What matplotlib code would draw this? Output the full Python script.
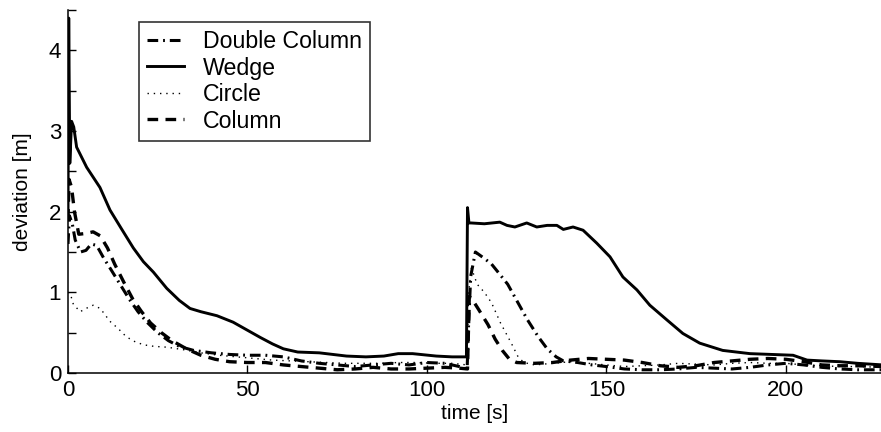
import matplotlib
matplotlib.use("Agg")
import matplotlib.pyplot as plt
from matplotlib.ticker import MultipleLocator

plt.rcParams['font.family'] = ['Liberation Sans', 'DejaVu Sans']

# ---------------- data ----------------
wedge_t = [0, 0.2, 0.5, 1.0, 1.6, 2.4, 5.2, 8.9, 11.7, 15, 18.2, 21, 23.8, 27.5, 31, 34, 37,
           41.5, 46, 50, 53.6, 57, 60, 64, 70, 77.6, 83, 88, 92, 96, 102.6, 107, 111.0,
           111.3, 111.7, 112.3, 116, 120.3, 122.3, 124.5, 127.8, 130.6, 133.5, 136.2, 138,
           140.7, 143.5, 147.3, 151, 154.6, 158.5, 162.1, 166.8, 171.3, 176, 182.4, 190,
           196, 202, 205.9, 210, 215, 220, 227]
wedge_v = [2.0, 4.4, 2.6, 3.12, 3.05, 2.8, 2.55, 2.3, 2.02, 1.78, 1.55, 1.38, 1.25, 1.05, 0.9,
           0.8, 0.76, 0.71, 0.63, 0.53, 0.44, 0.36, 0.3, 0.26, 0.25, 0.21, 0.2, 0.21, 0.24,
           0.24, 0.21, 0.2, 0.2,
           2.05, 1.86, 1.86, 1.85, 1.87, 1.83, 1.81, 1.86, 1.81, 1.83, 1.83, 1.78,
           1.81, 1.77, 1.61, 1.44, 1.19, 1.03, 0.84, 0.66, 0.49, 0.37, 0.28, 0.24,
           0.23, 0.22, 0.16, 0.15, 0.14, 0.12, 0.1]

dcol_t = [0, 0.4, 1.2, 2, 3.5, 5, 6.5, 8, 10, 12, 14.5, 17, 19.5, 22, 25, 28, 31, 35, 40,
          45, 50, 55, 60, 65, 70, 75, 80, 85, 90, 95, 100, 105, 109, 111.2, 111.6, 112.2, 113.5,
          116, 118, 120, 122.5, 125, 128, 131, 133.5, 136, 138, 142, 146, 150, 155, 160,
          165, 170, 175, 180, 185, 190, 195, 200, 205, 210, 215, 220, 227]
dcol_v = [1.6, 1.95, 1.85, 1.65, 1.5, 1.52, 1.6, 1.58, 1.42, 1.28, 1.1, 0.92, 0.76, 0.63,
          0.5, 0.4, 0.33, 0.28, 0.25, 0.23, 0.22, 0.22, 0.2, 0.15, 0.12, 0.1, 0.08, 0.1,
          0.12, 0.1, 0.13, 0.12, 0.08, 0.05, 0.6, 1.2, 1.5, 1.42, 1.35, 1.24, 1.1, 0.9,
          0.66, 0.45, 0.3, 0.2, 0.15, 0.13, 0.1, 0.08, 0.05, 0.04, 0.04, 0.05, 0.07, 0.06,
          0.05, 0.07, 0.1, 0.12, 0.1, 0.07, 0.05, 0.04, 0.04]

circ_t = [0, 0.6, 1.5, 3.4, 5, 7, 9, 11.7, 14, 16, 18, 21, 24, 27.6, 32, 37, 42, 47, 52, 57,
          62, 67, 72, 77, 82, 87, 92, 97, 102, 107, 111.2, 111.6, 112.4, 114, 116, 118,
          120.5, 123.5, 125.4, 127, 130, 135, 140, 145, 150, 155, 160, 165, 170, 175, 180,
          185, 190, 195, 200, 205, 210, 215, 220, 227]
circ_v = [1.0, 0.99, 0.85, 0.76, 0.8, 0.84, 0.8, 0.64, 0.55, 0.46, 0.4, 0.35, 0.33, 0.32,
          0.29, 0.25, 0.22, 0.2, 0.18, 0.16, 0.15, 0.14, 0.13, 0.12, 0.12, 0.12, 0.13,
          0.13, 0.12, 0.12, 0.1, 1.0, 1.3, 1.1, 1.0, 0.87, 0.62, 0.37, 0.2, 0.13, 0.1,
          0.12, 0.14, 0.12, 0.1, 0.08, 0.09, 0.1, 0.12, 0.11, 0.1, 0.12, 0.13, 0.12, 0.12,
          0.1, 0.09, 0.08, 0.08, 0.07]

col_t = [0, 0.3, 1, 1.8, 3, 5, 7, 9, 11, 13, 15.5, 18, 20.5, 23, 26, 29, 33, 37, 41, 45,
         50, 55, 60, 65, 70, 75, 80, 85, 90, 95, 100, 105, 109, 111.3, 111.8, 112.8, 114.5,
         117, 119, 121, 123, 125, 130, 135, 140, 145, 150, 155, 160, 165, 170, 175, 180,
         185, 190, 195, 200, 205, 210, 215, 220, 227]
col_v = [1.9, 2.4, 2.3, 2.0, 1.72, 1.73, 1.75, 1.7, 1.55, 1.35, 1.13, 0.92, 0.76, 0.62, 0.5,
         0.4, 0.3, 0.22, 0.17, 0.14, 0.13, 0.13, 0.1, 0.08, 0.06, 0.04, 0.05, 0.07, 0.05,
         0.05, 0.06, 0.07, 0.06, 0.05, 0.95, 0.9, 0.78, 0.6, 0.42, 0.28, 0.17, 0.13, 0.12,
         0.13, 0.16, 0.18, 0.17, 0.16, 0.13, 0.09, 0.07, 0.09, 0.13, 0.15, 0.17, 0.18,
         0.17, 0.14, 0.1, 0.09, 0.09, 0.08]

labels = ["Double Column", "Wedge", "Circle", "Column"]
x_ticks = [0, 50, 100, 150, 200]
y_ticks = [0, 1, 2, 3, 4]

# ---------------- plot ----------------
fig = plt.figure(figsize=(8.81, 4.32), dpi=100)
ax = fig.add_axes([68 / 881, 59 / 432, 1 - 68 / 881, 363 / 432])

ax.plot(dcol_t, dcol_v, color='black', lw=2.2, dashes=(3.5, 1.6, 0.6, 1.6), label=labels[0])
ax.plot(wedge_t, wedge_v, color='black', lw=2.1, ls='-', label=labels[1])
ax.plot(circ_t, circ_v, color='black', lw=1.0, dashes=(1, 3.5), label=labels[2])
ax.plot(col_t, col_v, color='black', lw=2.4, dashes=(3.2, 2.2), label=labels[3])

ax.set_xlim(0, 226.5)
ax.set_ylim(0, 4.5)
ax.set_xticks(x_ticks)
ax.set_yticks(y_ticks)
ax.yaxis.set_minor_locator(MultipleLocator(0.5))
ax.tick_params(which='both', direction='in', length=6, width=1, labelsize=16, pad=5)
ax.tick_params(axis='y', which='minor', length=6)
for s in ['top', 'right']:
    ax.spines[s].set_visible(False)
for s in ['left', 'bottom']:
    ax.spines[s].set_linewidth(1.1)

ax.set_xlabel("time [s]", fontsize=15, labelpad=2)
ax.set_ylabel("deviation [m]", fontsize=15, labelpad=12)

leg = ax.legend(loc='upper left', bbox_to_anchor=(0.087, 0.967), borderaxespad=0,
                fontsize=16.7, frameon=True, fancybox=False, handlelength=1.6,
                handletextpad=0.8, labelspacing=0.15, borderpad=0.35)
leg.get_frame().set_edgecolor('black')
leg.get_frame().set_linewidth(1.2)

fig.savefig("out.png", dpi=100)
